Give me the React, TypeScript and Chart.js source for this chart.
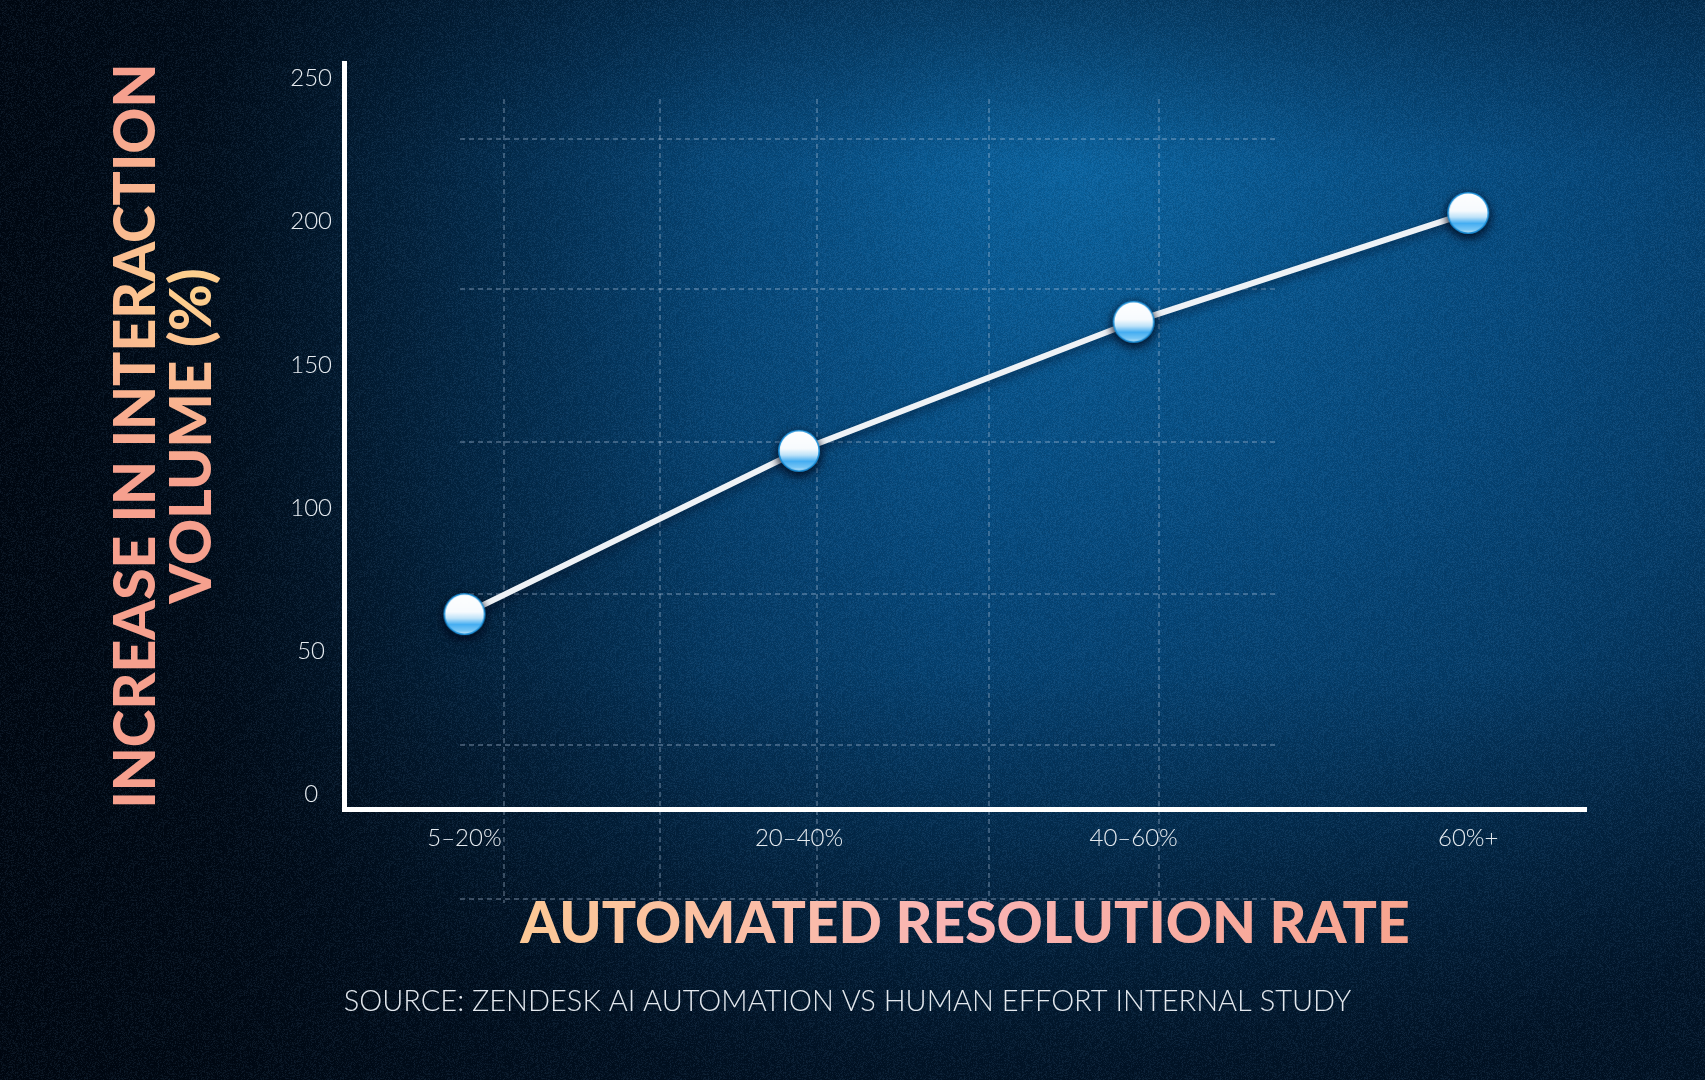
import React, { useEffect, useRef } from 'react';
import { Chart, registerables } from 'chart.js';

Chart.register(...registerables);

// ---- data ----
const categories = ['5–20%', '20–40%', '40–60%', '60%+'];
const values = [63, 120, 165, 203];
const yTicks = [0, 50, 100, 150, 200, 250];
const yTitle = ['INCREASE IN INTERACTION', 'VOLUME (%)'];
const xTitle = 'AUTOMATED RESOLUTION RATE';
const sourceText = 'SOURCE: ZENDESK AI AUTOMATION VS HUMAN EFFORT INTERNAL STUDY';

const W = 1705;
const H = 1080;

function makeMarker(): HTMLCanvasElement {
  const s = 56;
  const c = document.createElement('canvas');
  c.width = s;
  c.height = s;
  const g = c.getContext('2d')!;
  const cx = s / 2;
  const cy = s / 2;
  const r = 21;
  g.save();
  g.shadowColor = 'rgba(0,8,25,0.65)';
  g.shadowBlur = 8;
  g.shadowOffsetY = 2;
  g.beginPath();
  g.arc(cx, cy, r, 0, Math.PI * 2);
  g.fillStyle = '#1b8fd8';
  g.fill();
  g.restore();
  const lg = g.createLinearGradient(0, cy - r, 0, cy + r);
  lg.addColorStop(0, '#ffffff');
  lg.addColorStop(0.45, '#f7fbfe');
  lg.addColorStop(0.6, '#bfe3f9');
  lg.addColorStop(0.75, '#45aef2');
  lg.addColorStop(0.9, '#78c6f5');
  lg.addColorStop(1, '#e6f5fd');
  g.beginPath();
  g.arc(cx, cy, r - 1.6, 0, Math.PI * 2);
  g.fillStyle = lg;
  g.fill();
  return c;
}

function makeNoise(): string {
  const s = 256;
  const c = document.createElement('canvas');
  c.width = s;
  c.height = s;
  const g = c.getContext('2d')!;
  const img = g.createImageData(s, s);
  let seed = 12345;
  const rnd = () => {
    seed = (seed * 1103515245 + 12345) & 0x7fffffff;
    return seed / 0x7fffffff;
  };
  for (let i = 0; i < s * s; i++) {
    const v = rnd();
    const light = v > 0.5;
    img.data[i * 4] = light ? 120 : 0;
    img.data[i * 4 + 1] = light ? 170 : 5;
    img.data[i * 4 + 2] = light ? 220 : 15;
    img.data[i * 4 + 3] = Math.floor(Math.abs(v - 0.5) * 2 * 30);
  }
  g.putImageData(img, 0, 0);
  return c.toDataURL();
}

const decorGrid = {
  id: 'decorGrid',
  beforeDraw(chart: any) {
    const { ctx } = chart;
    ctx.save();
    ctx.strokeStyle = 'rgba(185,205,228,0.42)';
    ctx.lineWidth = 1.4;
    ctx.setLineDash([5, 4]);
    [504, 660, 817, 989, 1159].forEach((x) => {
      ctx.beginPath();
      ctx.moveTo(x, 99);
      ctx.lineTo(x, 903);
      ctx.stroke();
    });
    [139, 289, 442, 594, 745, 899].forEach((y) => {
      ctx.beginPath();
      ctx.moveTo(460, y);
      ctx.lineTo(1275, y);
      ctx.stroke();
    });
    ctx.restore();
  },
};

const lineShadow = {
  id: 'lineShadow',
  beforeDatasetsDraw(chart: any) {
    const { ctx } = chart;
    ctx.save();
    ctx.shadowColor = 'rgba(0,10,30,0.55)';
    ctx.shadowBlur = 10;
    ctx.shadowOffsetY = 4;
  },
  afterDatasetsDraw(chart: any) {
    chart.ctx.restore();
  },
};

export default function App() {
  const canvasRef = useRef<HTMLCanvasElement | null>(null);
  const noiseRef = useRef<HTMLDivElement | null>(null);

  useEffect(() => {
    document.body.style.margin = '0';
    if (noiseRef.current) {
      noiseRef.current.style.backgroundImage = `url(${makeNoise()})`;
    }
    const canvas = canvasRef.current!;
    const ctx = canvas.getContext('2d')!;

    const xGrad = ctx.createLinearGradient(-440, 0, 440, 0);
    xGrad.addColorStop(0, '#fcc896');
    xGrad.addColorStop(0.5, '#f9b4b4');
    xGrad.addColorStop(1, '#f7a48e');

    const yGrad = ctx.createRadialGradient(150, 56, 0, 150, 56, 200);
    yGrad.addColorStop(0, '#fdd38d');
    yGrad.addColorStop(0.35, '#fbbf91');
    yGrad.addColorStop(1, '#f6a08e');

    const marker = makeMarker();
    const family = "'Lato', 'Noto Sans', sans-serif";
    const tickFont = { family, size: 24, weight: '300' as any, lineHeight: 1.2 };
    const titleFont = { family, size: 57, weight: '900' as any, lineHeight: 0.98 };

    const chart = new Chart(canvas, {
      type: 'line',
      data: {
        datasets: [
          {
            data: values.map((v, i) => ({ x: i, y: v })),
            borderColor: '#eef2f6',
            borderWidth: 6,
            pointStyle: marker as any,
            pointRadius: 21,
            tension: 0,
            clip: false as any,
          },
        ],
      },
      options: {
        responsive: false,
        animation: false,
        events: [],
        layout: { padding: { left: 109, right: 119, top: 63, bottom: 40 } },
        plugins: {
          legend: { display: false },
          tooltip: { enabled: false },
          subtitle: {
            display: true,
            position: 'bottom',
            align: 'center',
            text: sourceText,
            color: '#e3e8ee',
            font: { family, size: 29, weight: '300' as any, lineHeight: 1.2 },
            padding: { top: 0, bottom: 21 },
          },
        },
        scales: {
          x: {
            type: 'linear',
            min: -0.36,
            max: 3.352,
            grid: { display: false, drawTicks: false, tickLength: 0 },
            border: { display: true, color: '#ffffff', width: 5 },
            afterBuildTicks: (axis: any) => {
              axis.ticks = categories.map((_, i) => ({ value: i }));
            },
            afterFit: (scale: any) => {
              scale.height = 175.2;
            },
            ticks: {
              color: '#e6ebf0',
              font: tickFont,
              padding: 15,
              maxRotation: 0,
              autoSkip: false,
              callback: (v: any) => categories[v as number] ?? '',
            },
            title: {
              display: true,
              text: xTitle,
              color: xGrad as any,
              font: titleFont,
              padding: { top: 0, bottom: 32 },
            },
          },
          y: {
            type: 'linear',
            min: -5,
            max: 255.3,
            grid: { display: false, drawTicks: false, tickLength: 0 },
            border: { display: true, color: '#ffffff', width: 5 },
            afterBuildTicks: (axis: any) => {
              axis.ticks = yTicks.map((v) => ({ value: v }));
            },
            afterFit: (scale: any) => {
              scale.width = 235;
            },
            ticks: {
              color: '#e6ebf0',
              font: tickFont,
              padding: 12,
              crossAlign: 'center',
              callback: (v: any) => String(v),
            },
            title: {
              display: true,
              text: yTitle,
              color: yGrad as any,
              font: titleFont,
              padding: { top: 0, bottom: 0 },
            },
          },
        },
      },
      plugins: [decorGrid, lineShadow],
    });

    return () => chart.destroy();
  }, []);

  return (
    <div
      style={{
        position: 'relative',
        width: W,
        height: H,
        overflow: 'hidden',
        background:
          'radial-gradient(ellipse 1150px 950px at 1080px 170px, #0b64a0 0%, #08548b 22%, #064779 45%, #053b66 65%, #042a4b 85%, #031d36 100%)',
      }}
    >
      <div
        style={{
          position: 'absolute',
          inset: 0,
          background:
            'linear-gradient(90deg, rgba(1,7,16,0.97) 0%, rgba(1,7,16,0.85) 12%, rgba(1,7,16,0.45) 27%, rgba(1,7,16,0.1) 42%, rgba(1,7,16,0) 55%), linear-gradient(180deg, rgba(1,10,22,0) 62%, rgba(1,10,22,0.6) 100%), linear-gradient(0deg, rgba(1,10,22,0) 85%, rgba(1,10,22,0.35) 100%)',
        }}
      />
      <div
        ref={noiseRef}
        style={{ position: 'absolute', inset: 0, backgroundRepeat: 'repeat' }}
      />
      <canvas
        ref={canvasRef}
        width={W}
        height={H}
        style={{ position: 'absolute', left: 0, top: 0, width: W, height: H }}
      />
    </div>
  );
}
